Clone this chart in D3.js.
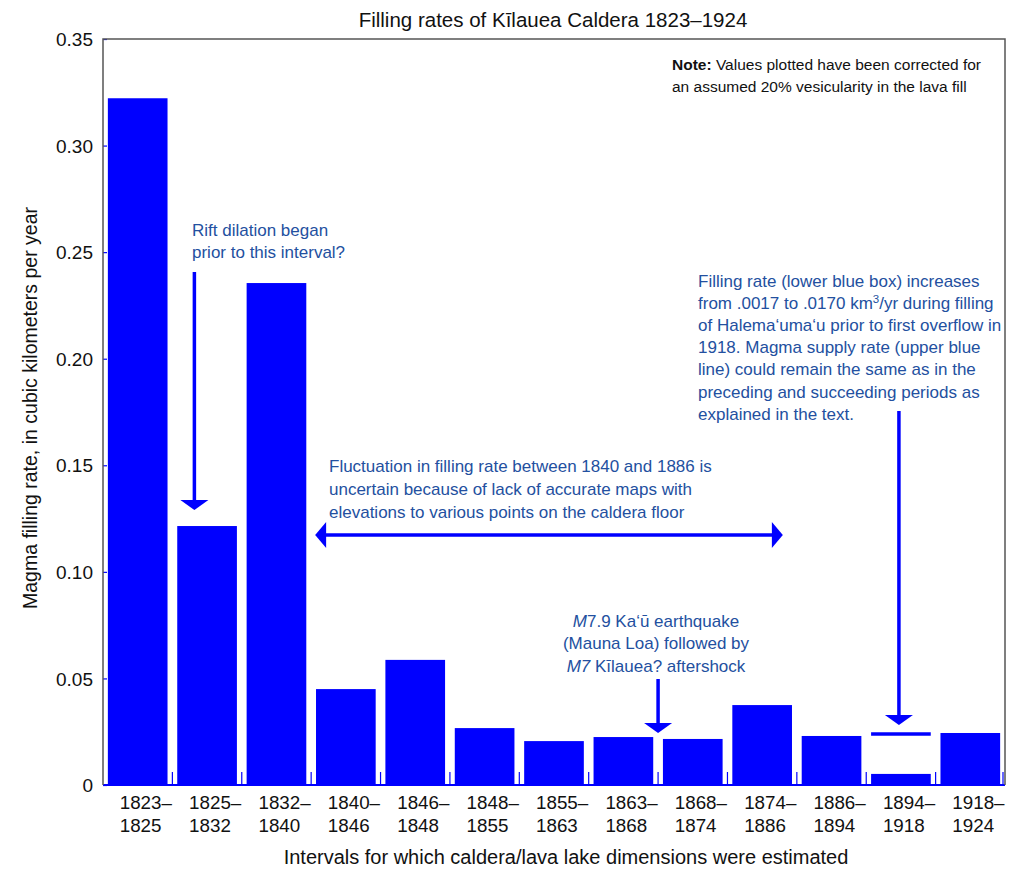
<!DOCTYPE html>
<html>
<head>
<meta charset="utf-8">
<script src="https://cdn.jsdelivr.net/npm/d3@7"></script>
<style>
  html, body { margin: 0; padding: 0; background: #fff; }
  svg { display: block; font-family: "Liberation Sans", Arial, Helvetica, sans-serif; }
</style>
</head>
<body>
<svg id="chart" width="1009" height="869"></svg>
<script>
// Intervals (start/end years) and the magma filling rate for each, km³/yr
const intervalStarts = ["1823", "1825", "1832", "1840", "1846", "1848", "1855", "1863", "1868", "1874", "1886", "1894", "1918"];
const intervalEnds   = ["1825", "1832", "1840", "1846", "1848", "1855", "1863", "1868", "1874", "1886", "1894", "1918", "1924"];
const fillingRates   = [0.3222, 0.1215, 0.2355, 0.0450, 0.0587, 0.0267, 0.0206, 0.0225, 0.0216, 0.0375, 0.0230, 0.0052, 0.0244];
// Magma supply rate drawn as a line over the 1894–1918 interval
const supplyInterval = "1894";
const supplyRate = 0.0239;
const yTicks = [0, 0.05, 0.10, 0.15, 0.20, 0.25, 0.30, 0.35];
const yTickLabels = ["0", "0.05", "0.10", "0.15", "0.20", "0.25", "0.30", "0.35"];

const svg = d3.select("#chart");
const margin = { left: 103, right: 4, top: 39, bottom: 84 };
const W = 1009, H = 869;
const x0 = margin.left, x1 = W - margin.right, y0 = margin.top, y1 = H - margin.bottom;

const blue = "#0000ff";
const noteBlue = "#2350a0";

const x = d3.scaleBand().domain(intervalStarts).range([x0, x1]).paddingInner(0.14).paddingOuter(0.07);
const y = d3.scaleLinear().domain([0, 0.35]).range([y1, y0]);
const step = x.step();
const bandStart = d => x(d) - x.paddingInner() * step / 2;

// Bars
svg.append("g").selectAll("rect").data(fillingRates).join("rect")
  .attr("x", (d, i) => x(intervalStarts[i]))
  .attr("y", d => y(d))
  .attr("width", x.bandwidth())
  .attr("height", d => y(0) - y(d))
  .attr("fill", blue);

// Upper supply line over the 1894–1918 interval
svg.append("line")
  .attr("x1", x(supplyInterval)).attr("x2", x(supplyInterval) + x.bandwidth())
  .attr("y1", y(supplyRate)).attr("y2", y(supplyRate))
  .attr("stroke", blue).attr("stroke-width", 3.5);

// Baseline and boundary ticks
svg.append("line").attr("x1", x0).attr("x2", x1).attr("y1", y(0)).attr("y2", y(0))
  .attr("stroke", blue).attr("stroke-width", 2);
svg.append("g").selectAll("line").data(intervalStarts.slice(1).concat(["end"])).join("line")
  .attr("x1", (d, i) => i < intervalStarts.length - 1 ? bandStart(d) : x1 - 2)
  .attr("x2", (d, i) => i < intervalStarts.length - 1 ? bandStart(d) : x1 - 2)
  .attr("y1", y(0)).attr("y2", y(0) - 13)
  .attr("stroke", blue).attr("stroke-width", 1.2);

// Y axis ticks (inward, blue) and labels
const yAxis = d3.axisLeft(y).tickValues(yTicks).tickSize(-4)
  .tickFormat((d, i) => yTickLabels[i]).tickPadding(10);
const gy = svg.append("g").attr("transform", `translate(${x0},0)`).call(yAxis);
gy.select(".domain").remove();
gy.selectAll(".tick line").attr("stroke", blue).attr("stroke-width", 1.2);
gy.selectAll(".tick text").attr("fill", "#111").style("font-size", "19px")
  .style("font-family", "'Liberation Sans', Arial, sans-serif").attr("dy", "0.35em");

// Frame
svg.append("path")
  .attr("d", `M${x0},${y1}V${y0}H${x1}V${y1}`)
  .attr("fill", "none").attr("stroke", "#555").attr("stroke-width", 1.5);

// X tick labels (two lines)
const xl = svg.append("g").selectAll("text").data(intervalStarts).join("text")
  .attr("x", d => x(d) + x.bandwidth() / 2 - 18)
  .attr("y", 809)
  .attr("fill", "#111").style("font-size", "18.8px");
xl.append("tspan").text(d => d + "–");
xl.append("tspan").attr("x", d => x(d) + x.bandwidth() / 2 - 18).attr("dy", 23)
  .text((d, i) => intervalEnds[i]);

// Title and axis titles
svg.append("text").attr("x", 553).attr("y", 27).attr("text-anchor", "middle")
  .style("font-size", "20.5px").attr("fill", "#111").text("Filling rates of Kīlauea Caldera 1823–1924");
svg.append("text").attr("x", 566).attr("y", 864).attr("text-anchor", "middle")
  .style("font-size", "20px").attr("fill", "#111").text("Intervals for which caldera/lava lake dimensions were estimated");
svg.append("text").attr("transform", "translate(37,408) rotate(-90)").attr("text-anchor", "middle")
  .style("font-size", "19.5px").attr("fill", "#111").text("Magma filling rate, in cubic kilometers per year");

// Note
const note = svg.append("text").attr("x", 672).attr("y", 70).style("font-size", "15.5px").attr("fill", "#111");
note.append("tspan").attr("font-weight", "bold").text("Note:");
note.append("tspan").text(" Values plotted have been corrected for");
note.append("tspan").attr("x", 672).attr("dy", 22).text("an assumed 20% vesicularity in the lava fill");

// Annotation helper
function block(xp, yp, lines, anchor, lh) {
  const t = svg.append("text").attr("x", xp).attr("y", yp).attr("text-anchor", anchor || "start")
    .style("font-size", "17px").attr("fill", noteBlue);
  lines.forEach((ln, i) => {
    const parts = Array.isArray(ln) ? ln : [[ln, false, false]];
    parts.forEach((p, j) => {
      const s = t.append("tspan");
      if (j === 0) s.attr("x", xp).attr("dy", i === 0 ? 0 : (lh || 23));
      if (p[1]) s.attr("font-style", "italic");
      if (p[2]) s.attr("baseline-shift", "super").style("font-size", "11.5px");
      s.text(p[0]);
    });
  });
  return t;
}

block(192, 236, ["Rift dilation began", "prior to this interval?"], "start", 22);
block(329, 472, ["Fluctuation in filling rate between 1840 and 1886 is",
  "uncertain because of lack of accurate maps with",
  "elevations to various points on the caldera floor"], "start", 23);
block(656, 627, [
  [["M", true], ["7.9 Ka‘ū earthquake", false]],
  "(Mauna Loa) followed by",
  [["M7", true], [" Kīlauea? aftershock", false]]], "middle", 22.3);
block(698, 287, [
  "Filling rate (lower blue box) increases",
  [["from .0017 to .0170 km", false], ["3", false, true], ["/yr during filling", false]],
  "of Halema‘uma‘u prior to first overflow in",
  "1918. Magma supply rate (upper blue",
  "line) could remain the same as in the",
  "preceding and succeeding periods as",
  "explained in the text."], "start", 22.1);

// Arrows
function head(xp, yp, dir, w, h) {
  // dir: "down", "left", "right"
  let pts;
  if (dir === "down") pts = [[xp - w / 2, yp - h], [xp + w / 2, yp - h], [xp, yp]];
  else if (dir === "left") pts = [[xp + h, yp - w / 2], [xp + h, yp + w / 2], [xp, yp]];
  else pts = [[xp - h, yp - w / 2], [xp - h, yp + w / 2], [xp, yp]];
  svg.append("polygon").attr("points", pts.map(p => p.join(",")).join(" ")).attr("fill", blue);
}
function vArrow(xp, yTop, yTip) {
  svg.append("line").attr("x1", xp).attr("x2", xp).attr("y1", yTop).attr("y2", yTip - 8)
    .attr("stroke", blue).attr("stroke-width", 3.5);
  head(xp, yTip, "down", 28, 10);
}
// Rift dilation arrow
vArrow(bandStart("1825") + 22, 272, y(0.1215) - 16);
// Double arrow across 1840–1886
const yd = y(0.1173);
svg.append("line").attr("x1", bandStart("1840") + 10).attr("x2", bandStart("1886") - 20)
  .attr("y1", yd).attr("y2", yd).attr("stroke", blue).attr("stroke-width", 3.5);
head(bandStart("1840") + 4, yd, "left", 26, 11);
head(bandStart("1886") - 14, yd, "right", 26, 11);
// Earthquake arrow at 1868
vArrow(bandStart("1868"), 679, y(0.0225) - 4);
// Supply arrow over 1894–1918
vArrow(x("1894") + x.bandwidth() / 2 - 2, 411, y(supplyRate) - 9);
</script>
</body>
</html>
